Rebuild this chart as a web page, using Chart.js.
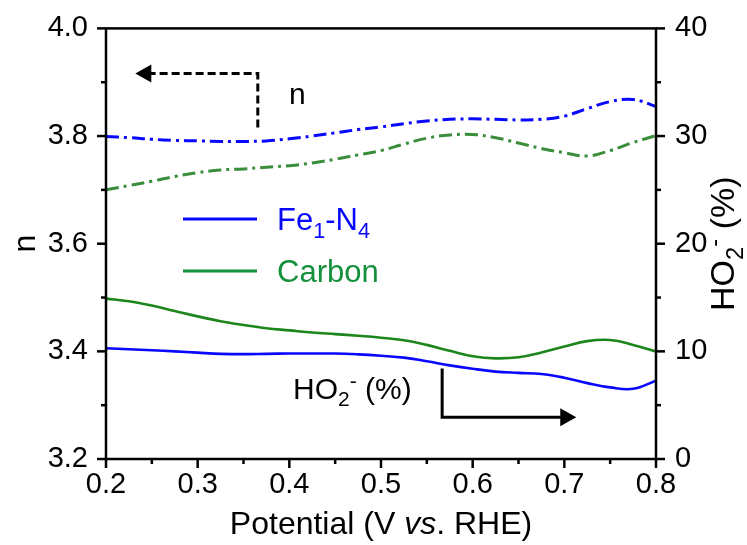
<!DOCTYPE html>
<html>
<head>
<meta charset="utf-8">
<script src="https://cdn.jsdelivr.net/npm/chart.js@4.4.0/dist/chart.umd.min.js"></script>
<style>
html, body { margin: 0; padding: 0; background: #fff; }
#wrap { width: 747px; height: 545px; position: relative; }
</style>
</head>
<body>
<div id="wrap"><canvas id="ringChart"></canvas></div>
<script>
// potential (V vs. RHE)
const potential = [0.2, 0.225, 0.25, 0.275, 0.3, 0.325, 0.35, 0.375, 0.4, 0.425, 0.45, 0.475, 0.5,
	0.525, 0.55, 0.575, 0.6, 0.625, 0.65, 0.675, 0.7, 0.725, 0.75, 0.775, 0.8];

// electron transfer number n (left axis)
const feN4_n = [3.799, 3.797, 3.794, 3.792, 3.791, 3.790, 3.790, 3.791, 3.795, 3.800, 3.806, 3.812, 3.817,
	3.823, 3.828, 3.831, 3.832, 3.831, 3.830, 3.831, 3.837, 3.851, 3.864, 3.868, 3.855];
const carbon_n = [3.700, 3.708, 3.716, 3.725, 3.732, 3.737, 3.739, 3.742, 3.745, 3.750, 3.757, 3.765, 3.773,
	3.785, 3.796, 3.802, 3.803, 3.797, 3.787, 3.777, 3.769, 3.763, 3.773, 3.788, 3.801];

// peroxide yield HO2- % (right axis)
const feN4_ho2 = [10.29, 10.2, 10.1, 10.0, 9.88, 9.77, 9.74, 9.77, 9.8, 9.8, 9.8, 9.72, 9.59,
	9.42, 9.08, 8.7, 8.38, 8.12, 8.0, 7.9, 7.55, 7.05, 6.65, 6.52, 7.28];
const carbon_ho2 = [14.9, 14.65, 14.25, 13.75, 13.25, 12.8, 12.45, 12.15, 11.95, 11.75, 11.6, 11.45, 11.27,
	11.03, 10.6, 10.05, 9.55, 9.35, 9.45, 9.9, 10.45, 10.95, 11.05, 10.6, 9.98];

const seriesNames = ['Fe1-N4', 'Carbon'];

const FONT = "'Liberation Sans', Arial, sans-serif";
const BLUE = '#0808ff';
const GREEN = '#1c861c';
const GREEN_DD = '#3a8d3a';
const GREEN_TXT = '#15903c';
const DASHDOT = [13, 5, 3, 5];

const pts = (ys) => potential.map((x, i) => ({ x: x, y: ys[i] }));

// draws text with sub/superscript runs, returns width
const richText = (ctx, parts, x, y, size, measureOnly) => {
	let cx = x;
	for (const p of parts) {
		const s = p.k ? size * 0.7 : size;
		ctx.font = (p.i ? 'italic ' : '') + s + 'px ' + FONT;
		const dy = p.k === 'sub' ? size * 0.25 : p.k === 'sup' ? -size * 0.36 : 0;
		if (!measureOnly) ctx.fillText(p.t, cx, y + dy);
		cx += ctx.measureText(p.t).width;
	}
	return cx - x;
};

const arrowHead = (ctx, x, y, dir, len, half) => {
	ctx.beginPath();
	ctx.moveTo(x, y);
	ctx.lineTo(x - dir * len, y - half);
	ctx.lineTo(x - dir * len, y + half);
	ctx.closePath();
	ctx.fill();
};

const decorations = {
	id: 'decorations',
	afterDraw(chart) {
		const ctx = chart.ctx;
		const a = chart.chartArea;
		const sx = chart.scales.x, sy = chart.scales.y, sy1 = chart.scales.y1;
		ctx.save();
		ctx.strokeStyle = '#000';
		ctx.fillStyle = '#000';
		ctx.lineWidth = 2.5;
		ctx.lineCap = 'butt';

		// frame
		ctx.strokeRect(a.left, a.top, a.right - a.left, a.bottom - a.top);

		// ticks, major and minor, pointing out
		const tick = (x1, y1, x2, y2) => { ctx.beginPath(); ctx.moveTo(x1, y1); ctx.lineTo(x2, y2); ctx.stroke(); };
		for (let i = 0; i <= 12; i++) {
			const px = sx.getPixelForValue(0.2 + i * 0.05);
			tick(px, a.bottom, px, a.bottom + (i % 2 ? 5 : 9));
		}
		for (let i = 0; i <= 8; i++) {
			const py = sy.getPixelForValue(3.2 + i * 0.1);
			tick(a.left, py, a.left - (i % 2 ? 5 : 9), py);
		}
		for (let i = 0; i <= 8; i++) {
			const py = sy1.getPixelForValue(i * 5);
			tick(a.right, py, a.right + (i % 2 ? 5 : 9), py);
		}

		ctx.textBaseline = 'alphabetic';
		ctx.textAlign = 'left';

		// x title
		const xt = [{ t: 'Potential (V ' }, { t: 'vs', i: true }, { t: '. RHE)' }];
		const w = richText(ctx, xt, 0, 0, 32, true);
		richText(ctx, xt, (a.left + a.right) / 2 - w / 2, 534, 32);

		// left title
		ctx.save();
		ctx.translate(35, (a.top + a.bottom) / 2);
		ctx.rotate(-Math.PI / 2);
		ctx.font = '32px ' + FONT;
		ctx.textAlign = 'center';
		ctx.fillText('n', 0, 0);
		ctx.restore();

		// right title
		const rt = [{ t: 'HO' }, { t: '2', k: 'sub' }, { t: '-', k: 'sup' }, { t: ' (%)' }];
		ctx.save();
		ctx.translate(734, (a.top + a.bottom) / 2);
		ctx.rotate(-Math.PI / 2);
		const rw = richText(ctx, rt, 0, 0, 34, true);
		richText(ctx, rt, -rw / 2, 0, 34);
		ctx.restore();

		// legend
		ctx.lineWidth = 3;
		const legend = [[seriesNames[0], BLUE, 219, [{ t: 'Fe' }, { t: '1', k: 'sub' }, { t: '-N' }, { t: '4', k: 'sub' }]],
			[seriesNames[1], GREEN_TXT, 271, [{ t: 'Carbon' }]]];
		for (const [, col, ly, parts] of legend) {
			ctx.strokeStyle = col;
			ctx.fillStyle = col;
			tick(183, ly, 257, ly);
			richText(ctx, parts, 277, ly + 11, 31);
		}

		// n arrow (dashed, pointing to left axis)
		ctx.strokeStyle = '#000';
		ctx.fillStyle = '#000';
		ctx.lineWidth = 3;
		ctx.setLineDash([8, 4]);
		const nx = sx.getPixelForValue(0.3656), ny = sy.getPixelForValue(3.916);
		const tipX = sx.getPixelForValue(0.232);
		ctx.beginPath();
		ctx.moveTo(nx, sy.getPixelForValue(3.816));
		ctx.lineTo(nx, ny);
		ctx.lineTo(tipX + 12, ny);
		ctx.stroke();
		ctx.setLineDash([]);
		arrowHead(ctx, tipX, ny, -1, 16, 9);
		ctx.font = '30px ' + FONT;
		ctx.fillText('n', sx.getPixelForValue(0.3995), sy.getPixelForValue(3.86));

		// HO2- arrow (solid, pointing to right axis)
		const hx = sx.getPixelForValue(0.5667);
		const hy = sy1.getPixelForValue(3.87);
		const hTip = sx.getPixelForValue(0.713);
		ctx.beginPath();
		ctx.moveTo(hx, sy1.getPixelForValue(8.4));
		ctx.lineTo(hx, hy);
		ctx.lineTo(hTip - 12, hy);
		ctx.stroke();
		arrowHead(ctx, hTip, hy, 1, 16, 9);
		richText(ctx, [{ t: 'HO' }, { t: '2', k: 'sub' }, { t: '-', k: 'sup' }, { t: ' (%)' }],
			sx.getPixelForValue(0.404), sy1.getPixelForValue(5.6), 30);

		ctx.restore();
	}
};

const config = {
	type: 'line',
	data: {
		datasets: [
			{ label: seriesNames[0] + ' n', data: pts(feN4_n), yAxisID: 'y', borderColor: BLUE, borderDash: DASHDOT, borderWidth: 3 },
			{ label: seriesNames[1] + ' n', data: pts(carbon_n), yAxisID: 'y', borderColor: GREEN_DD, borderDash: DASHDOT, borderWidth: 3 },
			{ label: seriesNames[0] + ' HO2', data: pts(feN4_ho2), yAxisID: 'y1', borderColor: BLUE, borderWidth: 2.6 },
			{ label: seriesNames[1] + ' HO2', data: pts(carbon_ho2), yAxisID: 'y1', borderColor: GREEN, borderWidth: 2.6 }
		]
	},
	options: {
		responsive: false,
		animation: false,
		devicePixelRatio: 1,
		layout: { padding: { top: 25, left: 0, right: 0, bottom: 0 } },
		elements: {
			point: { radius: 0 },
			line: { tension: 0.4, fill: false }
		},
		plugins: { legend: { display: false }, tooltip: { enabled: false } },
		scales: {
			x: {
				type: 'linear', min: 0.2, max: 0.8,
				grid: { display: false }, border: { display: false },
				ticks: { stepSize: 0.1, padding: 1, color: '#000', font: { family: FONT, size: 29 },
					callback: (v) => v.toFixed(1) },
				afterFit: (s) => { s.height = 86; }
			},
			y: {
				position: 'left', min: 3.2, max: 4.0,
				grid: { display: false }, border: { display: false },
				ticks: { stepSize: 0.2, padding: 10, color: '#000', font: { family: FONT, size: 29 },
					callback: (v) => v.toFixed(1) },
				afterFit: (s) => { s.width = 106; }
			},
			y1: {
				position: 'right', min: 0, max: 40,
				grid: { display: false }, border: { display: false },
				ticks: { stepSize: 10, padding: 11, color: '#000', font: { family: FONT, size: 29 } },
				afterFit: (s) => { s.width = 91; }
			}
		}
	},
	plugins: [decorations]
};

const canvas = document.getElementById('ringChart');
canvas.width = 747;
canvas.height = 545;
new Chart(canvas.getContext('2d'), config);
</script>
</body>
</html>
